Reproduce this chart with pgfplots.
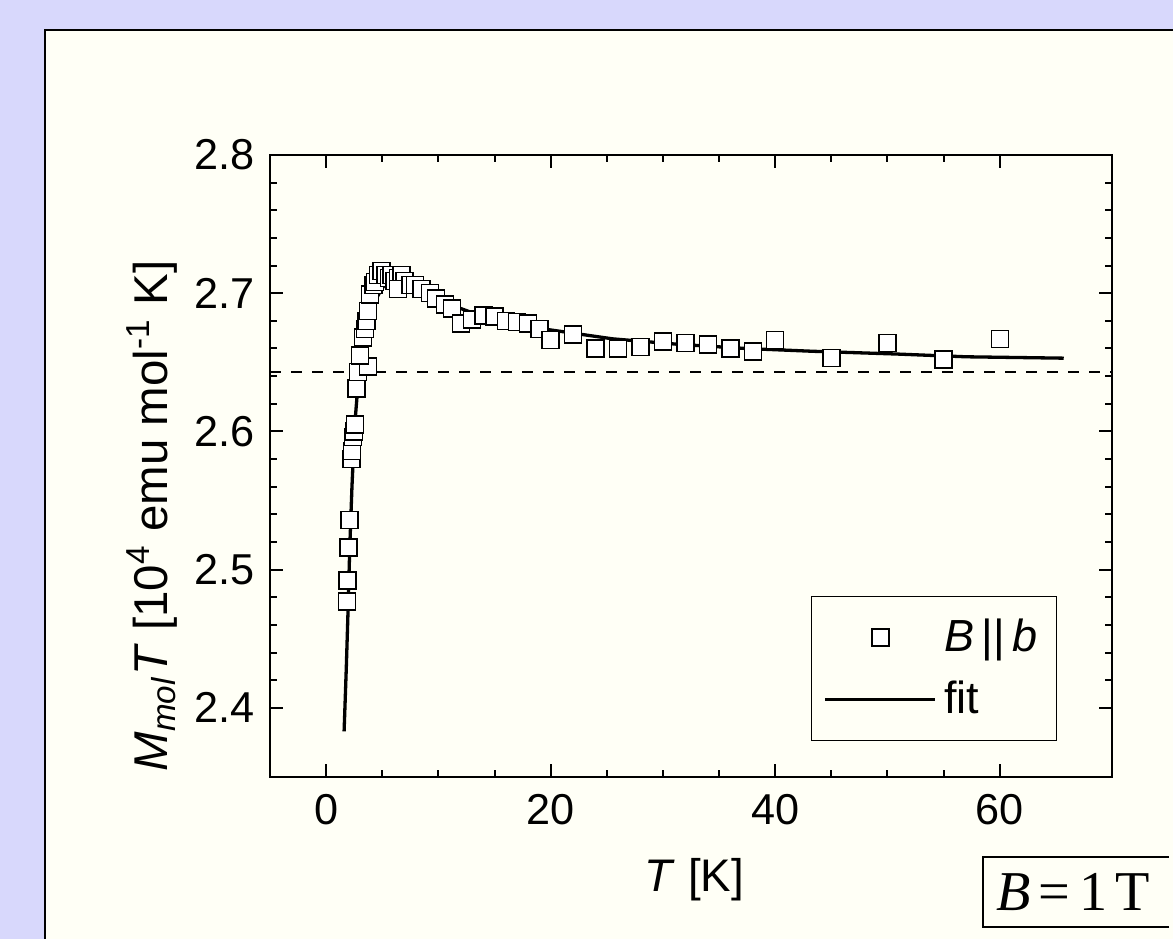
\documentclass[border=0pt]{standalone}
\usepackage{pgfplots}
\pgfplotsset{compat=1.18}
\usepackage{fontspec}
\setmainfont{Liberation Sans}
\newfontfamily\tnr{Liberation Serif}
\definecolor{lav}{RGB}{216,216,252}
\definecolor{cream}{RGB}{255,255,246}
\begin{document}
\begin{tikzpicture}[x=1mm,y=1mm]
\useasboundingbox (0,0) rectangle (117.3,93.9);
\fill[lav] (0,0) rectangle (117.3,93.9);
\fill[cream] (4.5,0) rectangle (117.3,90.9);
\draw[black,line width=0.15mm] (4.5,0) -- (4.5,90.9) -- (117.3,90.9);
\begin{axis}[
  at={(27.0mm,16.2mm)}, anchor=south west,
  scale only axis, width=84.2mm, height=62.2mm,
  xmin=-5, xmax=70, ymin=2.35, ymax=2.8,
  xtick={0,20,40,60}, ytick={2.4,2.5,2.6,2.7,2.8},
  minor x tick num=3, minor y tick num=4,
  tick align=inside,
  major tick length=1.3mm, minor tick length=0.7mm,
  axis line style={line width=0.2mm},
  every tick/.style={line width=0.2mm, black},
  /pgf/number format/assume math mode=true,
  yticklabel style={/pgf/number format/fixed,/pgf/number format/precision=1,/pgf/number format/fixed zerofill},
  tick label style={font=\fontsize{12.3}{14}\selectfont},
  xticklabel style={yshift=-0.5mm},
  yticklabel style={xshift=-0.3mm},
  xlabel={\textit{T} [K]},
  ylabel={\textit{M}\textsubscript{\textit{mol}}\textit{T} [10\textsuperscript{4} emu mol\textsuperscript{-1} K]},
  xlabel style={font=\fontsize{13}{15}\selectfont, at={(axis description cs:0.504,-0.165)},anchor=center},
  ylabel style={font=\fontsize{13.5}{16}\selectfont, at={(axis description cs:-0.14,0.42)},anchor=center},
  legend style={at={(0.9347,0.291)}, anchor=north east, draw=black, line width=0.1mm,
    fill=cream, font=\fontsize{12.8}{15}\selectfont, inner xsep=1.2mm, inner ysep=1.5mm,
    row sep=1.0mm, cells={anchor=west}},
  legend image code/.code={\draw[mark repeat=2,mark phase=2] plot coordinates {(0mm,0mm) (5.5mm,0mm) (11mm,0mm)};},
  clip=false,
]
\addplot[dashed, dash pattern=on 1.1mm off 1.0mm, line width=0.2mm, forget plot] coordinates {(-5,2.643) (70,2.643)};
\addplot[only marks, mark=square*, mark size=0.85mm, mark options={fill=white, draw=black, line width=0.15mm}] coordinates {
(1.85,2.477) (1.90,2.492) (2.00,2.516) (2.10,2.536) (2.26,2.580) (2.30,2.586) (2.40,2.596) (2.50,2.600) (2.55,2.605)
(2.70,2.631) (2.86,2.643) (3.75,2.647) (3.00,2.655) (3.30,2.668) (3.45,2.674) (3.60,2.680) (3.75,2.687) (3.90,2.699)
(4.20,2.706) (4.35,2.708) (4.60,2.713) (4.95,2.716) (5.30,2.713) (5.60,2.711) (5.80,2.713) (6.10,2.709) (6.40,2.711)
(6.70,2.713) (7.00,2.709) (6.40,2.703) (7.50,2.706) (7.90,2.706) (8.50,2.703) (9.25,2.700) (9.80,2.696) (10.6,2.692)
(11.2,2.689) (12.0,2.678) (13.0,2.681) (14.0,2.684) (15.0,2.683) (16.0,2.680) (17.0,2.679) (18.0,2.678) (19.0,2.674)
(20.0,2.666) (22.0,2.670) (24.0,2.660) (26.0,2.660) (28.0,2.661) (30.0,2.665) (32.0,2.664) (34.0,2.663) (36.0,2.660)
(38.0,2.658) (40.0,2.666) (45.0,2.653) (50.0,2.664) (55.0,2.652) (60.0,2.667)
};
\addlegendentry{\textit{B}\,||\,\textit{b}}
\addplot[black, line width=0.33mm, no marks] coordinates {
(1.6,2.383) (1.8,2.430) (1.95,2.470) (2.1,2.515) (2.3,2.560) (2.55,2.605) (2.85,2.635) (3.15,2.658)
(3.6,2.681) (4.2,2.692) (4.8,2.701) (5.2,2.706) (5.8,2.707) (6.7,2.704) (8.2,2.700) (10.3,2.694)
(13.3,2.685) (16.3,2.679) (19.5,2.674) (25.5,2.667) (31.4,2.663) (37.4,2.660) (43.3,2.658)
(50.8,2.656) (57,2.654) (65.7,2.653)
};
\addlegendentry{fit}
\end{axis}
\draw[line width=0.12mm] (116.9,1.2) -- (98.3,1.2) -- (98.3,8.2) -- (116.9,8.2);
\node[anchor=west, inner sep=0pt] at (99.6,4.7)
  {\tnr\fontsize{16}{18}\selectfont\textit{B}\hspace{0.7mm}=\hspace{1.0mm}1\hspace{0.8mm}T};
\end{tikzpicture}
\end{document}
